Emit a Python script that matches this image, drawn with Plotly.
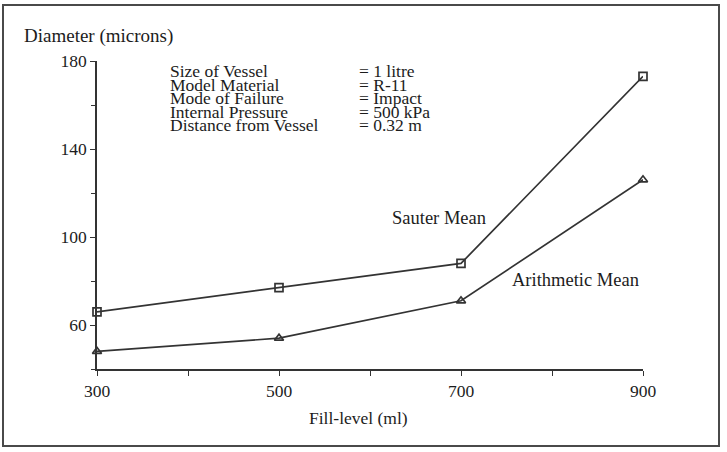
import plotly.graph_objects as go

# Fill level of the vessel (ml)
fill_level = [300, 500, 700, 900]
# Mean droplet diameters (microns)
sauter_mean = [66, 77, 88, 173]
arithmetic_mean = [48, 54, 71, 126]

x_ticks = [300, 500, 700, 900]
y_ticks = [60, 100, 140, 180]

test_params = [
    ("Size of Vessel", "= 1 litre"),
    ("Model Material", "= R-11"),
    ("Mode of Failure", "= Impact"),
    ("Internal Pressure", "= 500 kPa"),
    ("Distance from Vessel", "= 0.32 m"),
]

W, H = 727, 452
ML, MR, MT, MB = 97, 84, 61, 83
PW, PH = W - ML - MR, H - MT - MB

INK = "#1c1c1c"
LINE = "#333333"
FONT = "Liberation Serif"


def px(x):
    return (x - ML) / PW


def py(y):
    return (H - MB - y) / PH


fig = go.Figure()
fig.add_trace(go.Scatter(
    x=fill_level, y=sauter_mean, mode="lines+markers", name="Sauter Mean",
    line=dict(color=LINE, width=1.7),
    marker=dict(symbol="square-open", size=8, color=LINE, line=dict(width=1.7)),
    cliponaxis=False,
))
fig.add_trace(go.Scatter(
    x=fill_level, y=arithmetic_mean, mode="lines+markers", name="Arithmetic Mean",
    line=dict(color=LINE, width=1.7),
    marker=dict(symbol="triangle-up-open", size=8, color=LINE, line=dict(width=1.7)),
    cliponaxis=False,
))


def label(text, x, y, size, anchor="left"):
    return dict(text=text, x=px(x), y=py(y), xref="paper", yref="paper",
                xanchor=anchor, yanchor="middle", showarrow=False,
                font=dict(size=size, color=INK, family=FONT))


ann = [
    label("Diameter (microns)", 22, 36, 19),
    label("Fill-level (ml)", 358, 418, 17.5, "center"),
    label("Sauter Mean", 390, 218, 18.5),
    label("Arithmetic Mean", 510, 280, 18.5),
]
# test conditions block, tightly stacked rows
for i, (k, v) in enumerate(test_params):
    yy = 71 + i * 13.5
    ann.append(label(k, 168, yy, 17.5))
    ann.append(label(v, 357, yy, 17.5))

fig.update_layout(
    width=W, height=H,
    margin=dict(l=ML, r=MR, t=MT, b=MB),
    paper_bgcolor="white", plot_bgcolor="white",
    showlegend=False,
    annotations=ann,
    shapes=[dict(type="rect", xref="paper", yref="paper",
                 x0=px(3), x1=px(719), y0=py(446), y1=py(5),
                 line=dict(color="#4a4a4a", width=2))],
    xaxis=dict(
        range=[300, 900], tickvals=x_ticks, ticktext=[str(v) for v in x_ticks],
        showgrid=False, zeroline=False, showline=True, linecolor=LINE, linewidth=1.7,
        ticks="outside", ticklen=5, tickcolor=LINE, tickwidth=1.4,
        minor=dict(dtick=100, tick0=300, ticks="outside", ticklen=5, tickcolor=LINE, showgrid=False),
        tickfont=dict(size=17.5, color=INK, family=FONT),
    ),
    yaxis=dict(
        range=[40, 180], tickvals=y_ticks, ticktext=[str(v) for v in y_ticks],
        showgrid=False, zeroline=False, showline=True, linecolor=LINE, linewidth=1.7,
        ticks="outside", ticklen=5, tickcolor=LINE, tickwidth=1.4,
        minor=dict(dtick=20, tick0=40, ticks="outside", ticklen=4, tickcolor=LINE, showgrid=False),
        tickfont=dict(size=17.5, color=INK, family=FONT),
    ),
)

fig.write_html("out.html")
